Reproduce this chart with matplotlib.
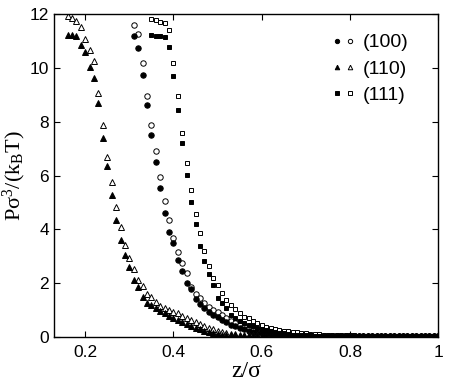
import matplotlib
matplotlib.use('Agg')
import matplotlib.pyplot as plt
from matplotlib.legend_handler import HandlerTuple
from matplotlib.ticker import FixedLocator, FixedFormatter

plt.rcParams['font.family'] = ['Liberation Sans', 'DejaVu Sans']
plt.rcParams['mathtext.fontset'] = 'custom'
plt.rcParams['mathtext.rm'] = 'Liberation Serif'
plt.rcParams['mathtext.it'] = 'Liberation Serif'
plt.rcParams['mathtext.bf'] = 'Liberation Serif:bold'

# ---------------- data ----------------
z_110 = [0.16, 0.17, 0.18, 0.19, 0.20, 0.21, 0.22, 0.23, 0.24, 0.25,
         0.26, 0.27, 0.28, 0.29, 0.30, 0.31, 0.32, 0.33, 0.34, 0.35,
         0.36, 0.37, 0.38, 0.39, 0.40, 0.41, 0.42, 0.43, 0.44, 0.45,
         0.46, 0.47, 0.48, 0.49, 0.50, 0.51, 0.52, 0.53, 0.54, 0.55,
         0.56, 0.57, 0.58, 0.59, 0.60, 0.61, 0.62, 0.63, 0.64, 0.65,
         0.66, 0.67, 0.68, 0.69, 0.70, 0.71, 0.72, 0.73, 0.74, 0.75,
         0.76, 0.77, 0.78, 0.79, 0.80, 0.81, 0.82, 0.83, 0.84, 0.85,
         0.86, 0.87, 0.88, 0.89, 0.90, 0.91, 0.92, 0.93, 0.94, 0.95,
         0.96, 0.97, 0.98, 0.99, 1.00]
p_110_filled = [11.24, 11.24, 11.18, 10.87, 10.62, 10.06, 9.63, 8.70, 7.39, 6.34,
                5.28, 4.35, 3.60, 3.04, 2.61, 2.11, 1.85, 1.49, 1.27, 1.18,
                1.06, 0.96, 0.87, 0.78, 0.71, 0.62, 0.56, 0.46, 0.41, 0.34,
                0.29, 0.22, 0.17, 0.13, 0.10, 0.08, 0.07, 0.06, 0.05, 0.04,
                0.04, 0.03, 0.03, 0.03, 0.02, 0.02, 0.02, 0.02, 0.02, 0.02,
                0.02, 0.02, 0.02, 0.02, 0.02, 0.02, 0.02, 0.02, 0.02, 0.02,
                0.02, 0.02, 0.01, 0.02, 0.02, 0.02, 0.01, 0.02, 0.02, 0.01,
                0.02, 0.01, 0.01, 0.02, 0.01, 0.01, 0.01, 0.02, 0.01, 0.01,
                0.01, 0.01, 0.01, 0.01, 0.01]
p_110_open = [11.95, 11.87, 11.74, 11.55, 11.08, 10.66, 10.25, 9.07, 7.89, 6.71,
              5.75, 4.84, 4.07, 3.40, 2.94, 2.51, 2.11, 1.87, 1.60, 1.46,
              1.30, 1.16, 1.06, 1.00, 0.93, 0.87, 0.78, 0.71, 0.62, 0.54,
              0.46, 0.41, 0.34, 0.29, 0.21, 0.16, 0.13, 0.11, 0.09, 0.08,
              0.07, 0.06, 0.05, 0.05, 0.04, 0.04, 0.04, 0.03, 0.03, 0.03,
              0.03, 0.03, 0.03, 0.03, 0.02, 0.03, 0.02, 0.02, 0.03, 0.02,
              0.02, 0.02, 0.02, 0.03, 0.02, 0.02, 0.02, 0.02, 0.02, 0.02,
              0.02, 0.02, 0.02, 0.01, 0.02, 0.02, 0.02, 0.01, 0.02, 0.01,
              0.01, 0.02, 0.01, 0.01, 0.01]

z_100 = [0.31, 0.32, 0.33, 0.34, 0.35, 0.36, 0.37, 0.38, 0.39, 0.40,
         0.41, 0.42, 0.43, 0.44, 0.45, 0.46, 0.47, 0.48, 0.49, 0.50,
         0.51, 0.52, 0.53, 0.54, 0.55, 0.56, 0.57, 0.58, 0.59, 0.60,
         0.61, 0.62, 0.63, 0.64, 0.65, 0.66, 0.67, 0.68, 0.69, 0.70,
         0.71, 0.72, 0.73, 0.74, 0.75, 0.76, 0.77, 0.78, 0.79, 0.80,
         0.81, 0.82, 0.83, 0.84, 0.85, 0.86, 0.87, 0.88, 0.89, 0.90,
         0.91, 0.92, 0.93, 0.94, 0.95, 0.96, 0.97, 0.98, 0.99, 1.00]
p_100_filled = [11.21, 10.75, 9.75, 8.64, 7.52, 6.49, 5.55, 4.60, 3.91, 3.48,
                2.86, 2.46, 1.99, 1.76, 1.39, 1.23, 1.05, 0.93, 0.80, 0.72,
                0.62, 0.53, 0.45, 0.38, 0.32, 0.27, 0.22, 0.18, 0.15, 0.13,
                0.11, 0.09, 0.08, 0.07, 0.06, 0.05, 0.05, 0.04, 0.04, 0.03,
                0.03, 0.03, 0.03, 0.02, 0.03, 0.02, 0.02, 0.02, 0.02, 0.02,
                0.02, 0.02, 0.02, 0.01, 0.02, 0.02, 0.01, 0.02, 0.01, 0.01,
                0.01, 0.01, 0.02, 0.01, 0.01, 0.01, 0.01, 0.01, 0.01, 0.01]
p_100_open = [11.62, 11.28, 10.21, 8.95, 7.89, 6.90, 5.96, 5.07, 4.35, 3.67,
              3.17, 2.73, 2.36, 1.86, 1.60, 1.43, 1.24, 1.12, 1.00, 0.91,
              0.80, 0.70, 0.60, 0.52, 0.45, 0.38, 0.32, 0.27, 0.23, 0.19,
              0.16, 0.14, 0.12, 0.10, 0.09, 0.08, 0.07, 0.06, 0.05, 0.05,
              0.04, 0.04, 0.04, 0.03, 0.03, 0.03, 0.03, 0.03, 0.02, 0.03,
              0.02, 0.02, 0.02, 0.02, 0.02, 0.02, 0.02, 0.01, 0.02, 0.02,
              0.01, 0.02, 0.01, 0.01, 0.02, 0.01, 0.01, 0.01, 0.01, 0.01]

z_111 = [0.35, 0.36, 0.37, 0.38, 0.39, 0.40, 0.41, 0.42, 0.43, 0.44,
         0.45, 0.46, 0.47, 0.48, 0.49, 0.50, 0.51, 0.52, 0.53, 0.54,
         0.55, 0.56, 0.57, 0.58, 0.59, 0.60, 0.61, 0.62, 0.63, 0.64,
         0.65, 0.66, 0.67, 0.68, 0.69, 0.70, 0.71, 0.72, 0.73, 0.74,
         0.75, 0.76, 0.77, 0.78, 0.79, 0.80, 0.81, 0.82, 0.83, 0.84,
         0.85, 0.86, 0.87, 0.88, 0.89, 0.90, 0.91, 0.92, 0.93, 0.94,
         0.95, 0.96, 0.97, 0.98, 0.99, 1.00]
p_111_filled = [11.24, 11.21, 11.18, 11.15, 10.78, 9.72, 8.43, 7.23, 6.03, 5.00,
                4.20, 3.38, 2.83, 2.34, 1.93, 1.43, 1.24, 1.06, 0.81, 0.69,
                0.60, 0.52, 0.45, 0.39, 0.33, 0.28, 0.24, 0.20, 0.17, 0.14,
                0.12, 0.10, 0.08, 0.07, 0.06, 0.05, 0.05, 0.04, 0.04, 0.04,
                0.03, 0.03, 0.03, 0.03, 0.02, 0.03, 0.02, 0.02, 0.02, 0.02,
                0.02, 0.02, 0.02, 0.02, 0.01, 0.02, 0.02, 0.01, 0.01, 0.02,
                0.01, 0.01, 0.01, 0.01, 0.01, 0.01]
p_111_open = [11.83, 11.78, 11.73, 11.68, 11.41, 10.21, 8.97, 7.60, 6.46, 5.47,
              4.57, 3.88, 3.19, 2.63, 2.17, 1.93, 1.62, 1.37, 1.18, 1.02,
              0.87, 0.75, 0.69, 0.59, 0.50, 0.44, 0.37, 0.31, 0.29, 0.25,
              0.22, 0.21, 0.19, 0.16, 0.14, 0.12, 0.11, 0.10, 0.09, 0.08,
              0.07, 0.07, 0.06, 0.06, 0.05, 0.05, 0.05, 0.04, 0.04, 0.04,
              0.04, 0.03, 0.03, 0.03, 0.03, 0.03, 0.03, 0.02, 0.03, 0.02,
              0.02, 0.02, 0.02, 0.02, 0.02, 0.02]

labels = ['(100)', '(110)', '(111)']
x_ticks = [0.2, 0.4, 0.6, 0.8, 1.0]
x_ticklabels = ['0.2', '0.4', '0.6', '0.8', '1']
y_ticks = [0, 2, 4, 6, 8, 10, 12]
y_ticklabels = ['0', '2', '4', '6', '8', '10', '12']

# ---------------- figure ----------------
fig = plt.figure(figsize=(4.5, 3.81), dpi=100)
ax = fig.add_axes([0.1207, 0.1163, 0.8533, 0.8457])

ew = 0.7
kw_f = dict(linestyle='none', color='black', markeredgecolor='black', markeredgewidth=ew, clip_on=True)
kw_o = dict(linestyle='none', color='black', markerfacecolor='white', markeredgecolor='black', markeredgewidth=ew, clip_on=True)

o100, = ax.plot(z_100, p_100_open, marker='o', markersize=3.9, **kw_o)
f100, = ax.plot(z_100, p_100_filled, marker='o', markersize=3.9, **kw_f)
o110, = ax.plot(z_110, p_110_open, marker='^', markersize=4.1, **kw_o)
f110, = ax.plot(z_110, p_110_filled, marker='^', markersize=4.1, **kw_f)
o111, = ax.plot(z_111, p_111_open, marker='s', markersize=3.1, **kw_o)
f111, = ax.plot(z_111, p_111_filled, marker='s', markersize=3.1, **kw_f)

ax.set_xlim(0.13, 1.0)
ax.set_ylim(0, 12)
ax.xaxis.set_major_locator(FixedLocator(x_ticks))
ax.xaxis.set_major_formatter(FixedFormatter(x_ticklabels))
ax.yaxis.set_major_locator(FixedLocator(y_ticks))
ax.yaxis.set_major_formatter(FixedFormatter(y_ticklabels))
ax.tick_params(direction='in', top=True, right=True, length=4, width=0.8,
               labelsize=12.5, pad=4)
ax.tick_params(axis='x', pad=6)
for sp in ax.spines.values():
    sp.set_linewidth(1.0)

ax.set_xlabel('z/σ', family='Liberation Serif', fontsize=17, labelpad=1)
ax.set_ylabel('Pσ$^3$/(k$_\\mathrm{B}$T)', family='Liberation Serif', fontsize=16, labelpad=1)

leg = ax.legend([(f100, o100), (f110, o110), (f111, o111)], labels,
                handler_map={tuple: HandlerTuple(ndivide=None, pad=0.3)},
                loc='upper left', bbox_to_anchor=(0.727, 0.94), borderaxespad=0,
                borderpad=0, frameon=False, fontsize=14, handlelength=1.0,
                handletextpad=0.5, labelspacing=0.45, markerscale=0.8,
                numpoints=1)

fig.savefig('out.png', dpi=100)
